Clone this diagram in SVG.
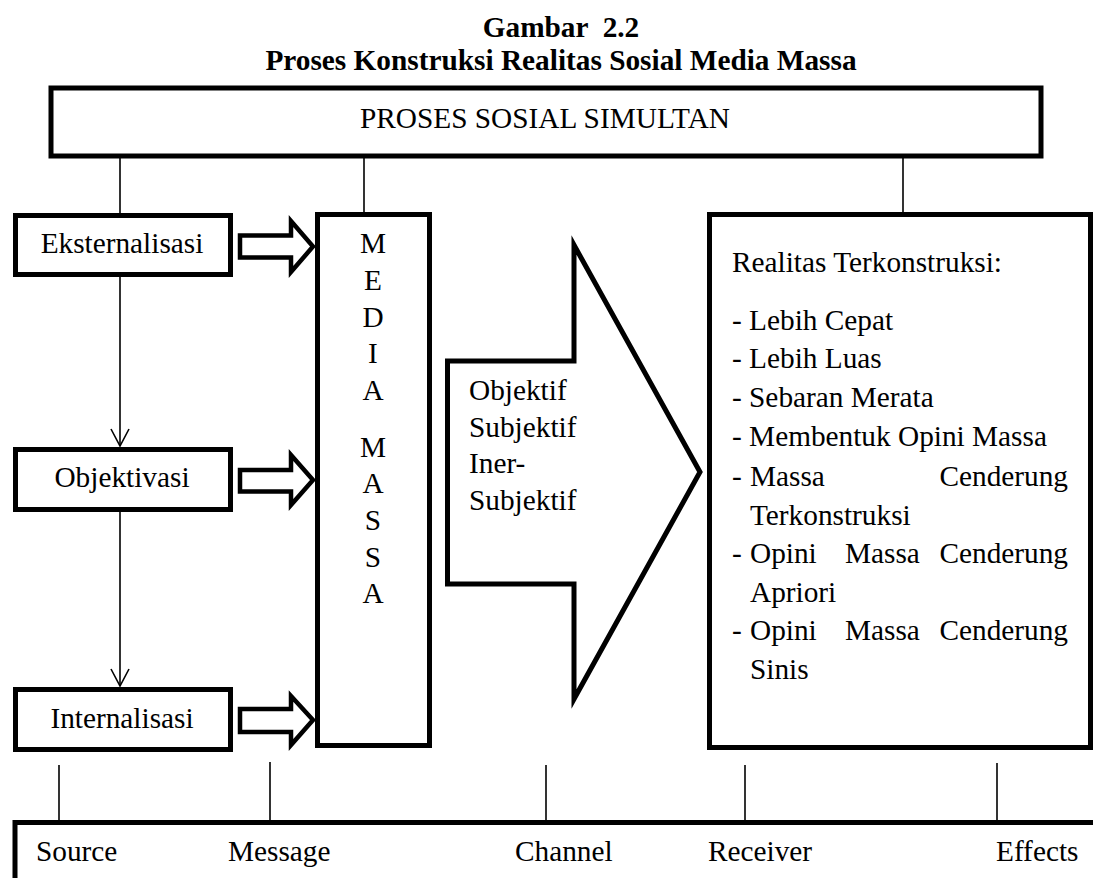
<svg xmlns="http://www.w3.org/2000/svg" width="1093" height="878" viewBox="0 0 1093 878">
<style>
.box{fill:#fff;stroke:#000;stroke-width:5}
.thin{fill:none;stroke:#000;stroke-width:1.6}
.blk{fill:#fff;stroke:#000;stroke-width:4.5;stroke-linejoin:miter}
</style>
<rect width="1093" height="878" fill="#fff"/>
<g id="title">
<text font-family="Liberation Serif" font-size="29.3" font-weight="bold" text-anchor="middle" x="561" y="37" xml:space="preserve">Gambar  2.2</text>
<text font-family="Liberation Serif" font-size="29.3" font-weight="bold" text-anchor="middle" x="561" y="70">Proses Konstruksi Realitas Sosial Media Massa</text>
</g>
<g id="connectors">
<line class="thin" x1="120" y1="157" x2="120" y2="214"/>
<line class="thin" x1="364" y1="157" x2="364" y2="213"/>
<line class="thin" x1="903" y1="157" x2="903" y2="213"/>
<line class="thin" x1="120" y1="277" x2="120" y2="446"/>
<polyline class="thin" points="111,429 120,446 129,429"/>
<line class="thin" x1="120" y1="512" x2="120" y2="686"/>
<polyline class="thin" points="111,669 120,686 129,669"/>
<polygon class="blk" points="240,235.5 291,235.5 291,221 313,246.5 291,272 291,257.5 240,257.5"/>
<polygon class="blk" points="240,470 291,470 291,455 313,480 291,505 291,491.5 240,491.5"/>
<polygon class="blk" points="240,709 291,709 291,696 313,720 291,745 291,732 240,732"/>
<line class="thin" x1="59" y1="765" x2="59" y2="821"/>
<line class="thin" x1="270" y1="762" x2="270" y2="821"/>
<line class="thin" x1="546" y1="765" x2="546" y2="821"/>
<line class="thin" x1="745" y1="765" x2="745" y2="821"/>
<line class="thin" x1="997" y1="763" x2="997" y2="821"/>
</g>
<g id="proses-sosial">
<rect class="box" x="51" y="88" width="990" height="68"/>
<text font-family="Liberation Serif" font-size="29.3" text-anchor="middle" x="545" y="128">PROSES SOSIAL SIMULTAN</text>
</g>
<g id="eksternalisasi">
<rect class="box" x="15.5" y="215.5" width="215" height="59"/>
<text font-family="Liberation Serif" font-size="29.3" text-anchor="middle" x="122" y="253">Eksternalisasi</text>
</g>
<g id="objektivasi">
<rect class="box" x="15.5" y="449.5" width="215" height="60"/>
<text font-family="Liberation Serif" font-size="29.3" text-anchor="middle" x="122" y="487">Objektivasi</text>
</g>
<g id="internalisasi">
<rect class="box" x="15.5" y="689.5" width="215" height="60"/>
<text font-family="Liberation Serif" font-size="29.3" text-anchor="middle" x="122" y="728">Internalisasi</text>
</g>
<g id="media-massa">
<rect class="box" x="317.5" y="214.5" width="112" height="531"/>
<text font-family="Liberation Serif" font-size="29.3" text-anchor="middle" x="373" y="253">M</text>
<text font-family="Liberation Serif" font-size="29.3" text-anchor="middle" x="373" y="290">E</text>
<text font-family="Liberation Serif" font-size="29.3" text-anchor="middle" x="373" y="327">D</text>
<text font-family="Liberation Serif" font-size="29.3" text-anchor="middle" x="373" y="363">I</text>
<text font-family="Liberation Serif" font-size="29.3" text-anchor="middle" x="373" y="400">A</text>
<text font-family="Liberation Serif" font-size="29.3" text-anchor="middle" x="373" y="457">M</text>
<text font-family="Liberation Serif" font-size="29.3" text-anchor="middle" x="373" y="493">A</text>
<text font-family="Liberation Serif" font-size="29.3" text-anchor="middle" x="373" y="530">S</text>
<text font-family="Liberation Serif" font-size="29.3" text-anchor="middle" x="373" y="567">S</text>
<text font-family="Liberation Serif" font-size="29.3" text-anchor="middle" x="373" y="603">A</text>
</g>
<g id="channel-arrow">
<polygon class="box" points="447.5,361 574,361 574,245 700,472 574,699 574,584 447.5,584"/>
<text font-family="Liberation Serif" font-size="29.3" x="469" y="400">Objektif</text>
<text font-family="Liberation Serif" font-size="29.3" x="469" y="437">Subjektif</text>
<text font-family="Liberation Serif" font-size="29.3" x="469" y="473">Iner-</text>
<text font-family="Liberation Serif" font-size="29.3" x="469" y="510">Subjektif</text>
</g>
<g id="realitas">
<rect class="box" x="709.5" y="214.5" width="381" height="533"/>
<text font-family="Liberation Serif" font-size="29.3" x="732" y="272">Realitas Terkonstruksi:</text>
<text font-family="Liberation Serif" font-size="29.3" x="732" y="330">- Lebih Cepat</text>
<text font-family="Liberation Serif" font-size="29.3" x="732" y="368">- Lebih Luas</text>
<text font-family="Liberation Serif" font-size="29.3" x="732" y="407">- Sebaran Merata</text>
<text font-family="Liberation Serif" font-size="29.3" x="732" y="446">- Membentuk Opini Massa</text>
<text font-family="Liberation Serif" font-size="29.3" x="732" y="486">-</text>
<text font-family="Liberation Serif" font-size="29.3" x="750" y="486">Massa</text>
<text font-family="Liberation Serif" font-size="29.3" x="1068" y="486" text-anchor="end">Cenderung</text>
<text font-family="Liberation Serif" font-size="29.3" x="750" y="525">Terkonstruksi</text>
<text font-family="Liberation Serif" font-size="29.3" x="732" y="563">-</text>
<text font-family="Liberation Serif" font-size="29.3" x="750" y="563">Opini</text>
<text font-family="Liberation Serif" font-size="29.3" x="845" y="563">Massa</text>
<text font-family="Liberation Serif" font-size="29.3" x="1068" y="563" text-anchor="end">Cenderung</text>
<text font-family="Liberation Serif" font-size="29.3" x="750" y="602">Apriori</text>
<text font-family="Liberation Serif" font-size="29.3" x="732" y="640">-</text>
<text font-family="Liberation Serif" font-size="29.3" x="750" y="640">Opini</text>
<text font-family="Liberation Serif" font-size="29.3" x="845" y="640">Massa</text>
<text font-family="Liberation Serif" font-size="29.3" x="1068" y="640" text-anchor="end">Cenderung</text>
<text font-family="Liberation Serif" font-size="29.3" x="750" y="679">Sinis</text>
</g>
<g id="smcre">
<polyline fill="none" stroke="#000" stroke-width="5" points="15,885 15,822.5 1100,822.5"/>
<text font-family="Liberation Serif" font-size="29.3" x="36" y="861">Source</text>
<text font-family="Liberation Serif" font-size="29.3" x="228" y="861">Message</text>
<text font-family="Liberation Serif" font-size="29.3" x="515" y="861">Channel</text>
<text font-family="Liberation Serif" font-size="29.3" x="708" y="861">Receiver</text>
<text font-family="Liberation Serif" font-size="29.3" x="996" y="861">Effects</text>
</g>
</svg>
